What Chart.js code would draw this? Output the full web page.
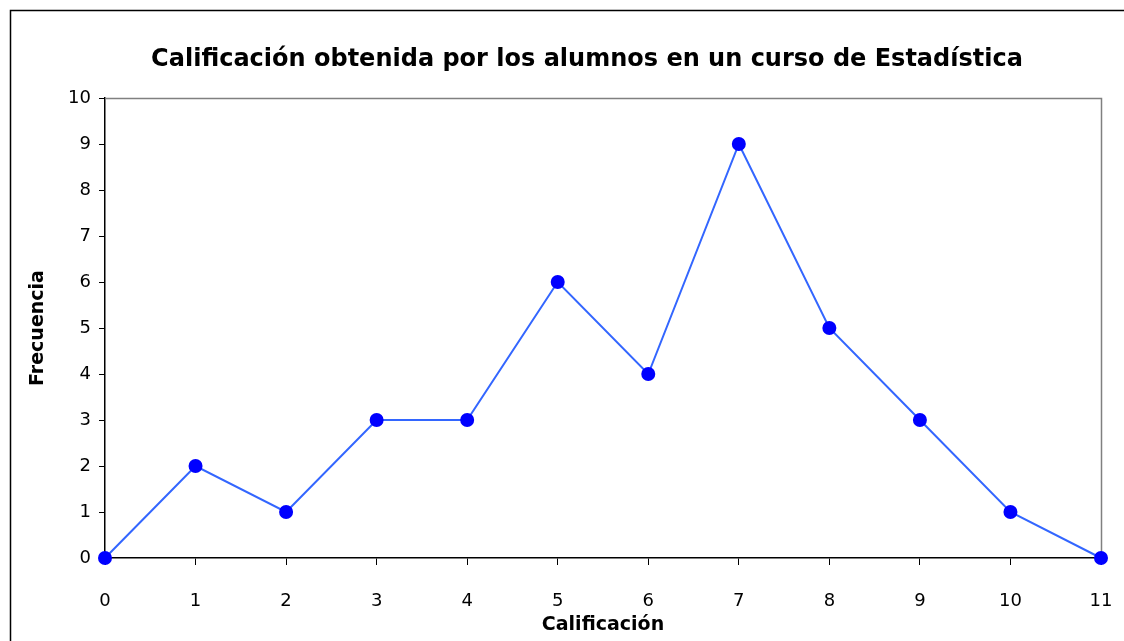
<!DOCTYPE html>
<html><head><meta charset="utf-8">
<script src="https://cdn.jsdelivr.net/npm/chart.js@4.4.0/dist/chart.umd.min.js"></script>
<style>html,body{margin:0;padding:0;background:#fff}#wrap{width:1124px;height:641px}</style>
</head><body><div id="wrap"><canvas id="c" width="1124" height="641"></canvas></div>
<script>
const calificaciones = [0,1,2,3,4,5,6,7,8,9,10,11];
const frecuencias = [0,2,1,3,3,6,4,9,5,3,1,0];
const titulo = 'Calificación obtenida por los alumnos en un curso de Estadística';
const tituloX = 'Calificación';
const tituloY = 'Frecuencia';
const FONT = "'Comic Sans MS','DejaVu Sans',sans-serif";

const frame = {
  id:'frame',
  beforeDraw(chart){
    const c = chart.ctx; c.save();
    c.fillStyle='#fff'; c.fillRect(0,0,chart.width,chart.height);
    c.strokeStyle='#000'; c.lineWidth=1.5;
    c.strokeRect(10.5,10.5,chart.width+20,chart.height+20);
    c.restore();
  },
  beforeDatasetsDraw(chart){
    const a = chart.chartArea, c = chart.ctx; c.save();
    c.strokeStyle='#808080'; c.lineWidth=1.5;
    c.beginPath(); c.moveTo(a.left,a.top+0.5); c.lineTo(a.right+0.5,a.top+0.5); c.lineTo(a.right+0.5,a.bottom); c.stroke();
    c.restore();
  },
  afterDraw(chart){
    const c = chart.ctx, a = chart.chartArea; c.save();
    c.fillStyle='#000'; c.font='bold 24px '+FONT;
    c.textAlign='center'; c.textBaseline='middle';
    c.fillText(titulo, a.left + (a.right - a.left)/2 - 16, 60);
    c.restore();
  }
};

new Chart(document.getElementById('c'), {
  type:'line',
  data:{ datasets:[{
    data: calificaciones.map((x,i)=>({x, y: frecuencias[i]})),
    borderColor:'#3366ff', borderWidth:2,
    pointBackgroundColor:'#0000ff', pointBorderColor:'#0000ff',
    pointRadius:6, pointHoverRadius:6, tension:0, clip:false
  }]},
  options:{
    responsive:false, animation:false,
    layout:{padding:{left:27,right:23,top:98,bottom:0}},
    plugins:{
      legend:{display:false}, tooltip:{enabled:false},
      title:{display:false}
    },
    scales:{
      x:{type:'linear',min:0,max:11,
        afterFit(s){s.height=83; s.paddingLeft=0; s.paddingRight=0;},
        ticks:{stepSize:1,color:'#000',font:{family:FONT,size:18},padding:26,maxRotation:0},
        grid:{drawOnChartArea:false,drawTicks:true,tickLength:7,color:'#000',lineWidth:1},
        border:{display:true,color:'#000',width:1.5},
        title:{display:true,text:tituloX,color:'#000',font:{family:FONT,size:19,weight:'bold'},padding:{top:0,bottom:5}}
      },
      y:{min:0,max:10,
        afterFit(s){s.width=78; s.paddingTop=0; s.paddingBottom=0;},
        ticks:{stepSize:1,color:'#000',font:{family:FONT,size:18},padding:8},
        grid:{drawOnChartArea:false,drawTicks:true,tickLength:6,color:'#000',lineWidth:1},
        border:{display:true,color:'#000',width:1.5},
        title:{display:true,text:tituloY,color:'#000',font:{family:FONT,size:19,weight:'bold'},padding:{top:0,bottom:0}}
      }
    }
  },
  plugins:[frame]
});
</script></body></html>
